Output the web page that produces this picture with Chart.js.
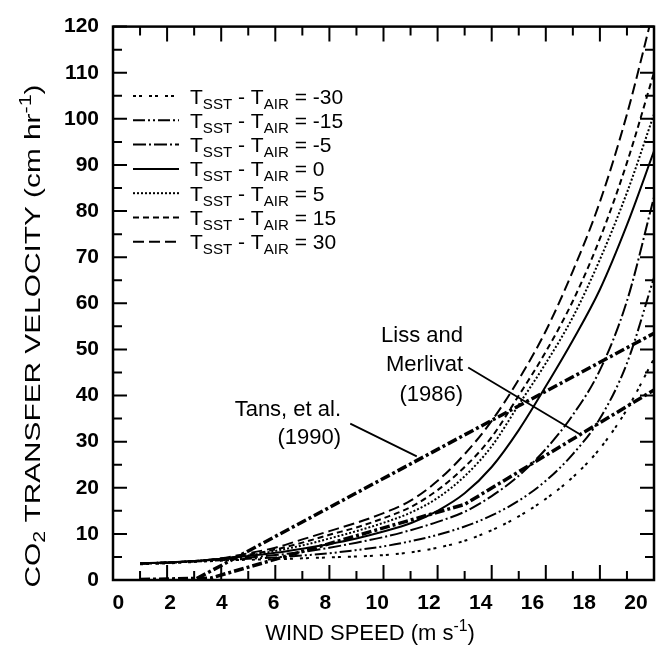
<!DOCTYPE html>
<html>
<head>
<meta charset="utf-8">
<script src="https://cdn.jsdelivr.net/npm/chart.js@4.4.0/dist/chart.umd.min.js"></script>
<style>
  html, body { margin: 0; padding: 0; background: #fff; }
</style>
</head>
<body>
<canvas id="kChart" width="670" height="656"></canvas>
<script>
// wind speed (m/s) for the T_SST - T_AIR curves
const windSpeed = [1, 2, 3, 4, 5, 6, 7, 8, 9, 10, 11, 12, 13, 14, 15, 16, 17, 18, 19, 20];

// CO2 transfer velocity (cm/hr)
const kMinus30 = [3.4, 3.6, 3.9, 4.2, 4.4, 4.5, 4.7, 4.9, 5.1, 5.4, 6.0, 7.0, 8.5, 10.8, 13.8, 17.6, 22.3, 28.5, 37, 48];
const kMinus15 = [3.5, 3.7, 4.0, 4.3, 4.6, 4.9, 5.3, 5.8, 6.5, 7.3, 8.4, 9.8, 11.6, 14.0, 17.2, 21.5, 27.3, 35, 47, 65.6];
const kMinus5 = [3.6, 3.8, 4.1, 4.5, 4.9, 5.4, 6.1, 7.0, 8.1, 9.3, 10.8, 12.6, 14.8, 18.2, 22.6, 28.4, 35.8, 45.5, 60.5, 83];
const kZero = [3.6, 3.8, 4.1, 4.6, 5.2, 5.9, 6.8, 7.8, 9.0, 10.5, 12.3, 15.0, 18.8, 24.5, 32.5, 42, 52, 63, 77, 93];
const kPlus5 = [3.6, 3.8, 4.1, 4.6, 5.3, 6.3, 7.5, 9.0, 10.6, 12.4, 14.6, 17.8, 22.5, 29, 38, 47, 57, 69.5, 84, 101];
const kPlus15 = [3.6, 3.8, 4.1, 4.6, 5.5, 6.6, 8.1, 9.8, 11.4, 13.4, 15.8, 19.5, 24.5, 31, 40, 49.5, 60.5, 74, 90.5, 110];
const kPlus30 = [3.6, 3.8, 4.1, 4.7, 5.8, 7.0, 8.8, 10.6, 12.4, 14.5, 17.2, 21.5, 27.3, 34.5, 43.5, 54, 67, 82, 101, 124];

// Tans et al. (1990) and Liss and Merlivat (1986)
const tansWind = [1, 3, 20];
const tansK = [0, 0, 53.5];
const lissWind = [1, 3.6, 13, 20];
const lissK = [0.1, 0.4, 16.4, 41.2];

const xTickLabels = [0, 2, 4, 6, 8, 10, 12, 14, 16, 18, 20];
const yTickLabels = [0, 10, 20, 30, 40, 50, 60, 70, 80, 90, 100, 110, 120];

const legendDiffs = ['-30', '-15', '-5', '0', '5', '15', '30'];

const FONT = "'Liberation Sans', Arial, Helvetica, sans-serif";

function toPoints(xs, ys) {
    return xs.map((x, i) => ({x: x, y: ys[i]}));
}

function curve(label, values, dash) {
    return {
        label: label,
        data: toPoints(windSpeed, values),
        borderColor: '#000',
        borderWidth: 2,
        borderDash: dash,
        pointRadius: 0,
        fill: false,
        cubicInterpolationMode: 'monotone'
    };
}

const datasets = [
    curve('-30', kMinus30, [3, 3, 3, 7]),
    curve('-15', kMinus15, [12, 3, 2, 3, 2, 3]),
    curve('-5', kMinus5, [13, 3, 2, 3]),
    curve('0', kZero, []),
    curve('5', kPlus5, [2, 2]),
    curve('15', kPlus15, [6, 4]),
    curve('30', kPlus30, [11, 5]),
    {
        label: 'Tans',
        data: toPoints(tansWind, tansK),
        borderColor: '#000',
        borderWidth: 3.5,
        borderDash: [10, 3, 3, 3],
        pointRadius: 0,
        tension: 0
    },
    {
        label: 'Liss',
        data: toPoints(lissWind, lissK),
        borderColor: '#000',
        borderWidth: 3.5,
        borderDash: [10, 3, 3, 3],
        pointRadius: 0,
        tension: 0
    }
];

// draw text made of runs, some of them sub- or superscript
function drawRuns(ctx, runs, x, y, size, align) {
    let total = 0;
    runs.forEach((r) => {
        r.size = r.sub || r.sup ? size * 0.72 : size;
        ctx.font = r.size + 'px ' + FONT;
        r.w = ctx.measureText(r.t).width;
        total += r.w;
    });
    let cx = x;
    if (align === 'right') cx = x - total;
    if (align === 'center') cx = x - total / 2;
    runs.forEach((r) => {
        ctx.font = r.size + 'px ' + FONT;
        let dy = 0;
        if (r.sub) dy = size * 0.24;
        if (r.sup) dy = -size * 0.4;
        ctx.fillText(r.t, cx, y + dy);
        cx += r.w;
    });
    return total;
}

const framePlugin = {
    id: 'frame',
    afterDatasetsDraw(chart) {
        const {ctx, chartArea: a} = chart;
        const x = chart.scales.x;
        const y = chart.scales.y;
        ctx.save();
        ctx.strokeStyle = '#000';
        ctx.lineWidth = 2;
        ctx.beginPath();
        for (let v = 0; v <= 20; v++) {
            const px = x.getPixelForValue(v);
            const len = v % 2 ? 9 : 15;
            ctx.moveTo(px, a.bottom);
            ctx.lineTo(px, a.bottom - len);
            ctx.moveTo(px, a.top);
            ctx.lineTo(px, a.top + len);
        }
        for (let v = 0; v <= 120; v += 5) {
            const py = y.getPixelForValue(v);
            const len = v % 10 ? 9 : 14;
            ctx.moveTo(a.left, py);
            ctx.lineTo(a.left + len, py);
            ctx.moveTo(a.right, py);
            ctx.lineTo(a.right - len, py);
        }
        ctx.stroke();
        ctx.lineWidth = 2.5;
        ctx.strokeRect(a.left, a.top, a.right - a.left, a.bottom - a.top);
        ctx.restore();
    }
};

const textPlugin = {
    id: 'texts',
    afterDraw(chart) {
        const ctx = chart.ctx;
        const x = chart.scales.x;
        const y = chart.scales.y;
        ctx.save();
        ctx.fillStyle = '#000';
        ctx.strokeStyle = '#000';
        ctx.textBaseline = 'alphabetic';

        // legend
        legendDiffs.forEach((d, i) => {
            const ds = datasets[i];
            const rowY = 96 + i * 24.3;
            ctx.lineWidth = 2;
            ctx.setLineDash(ds.borderDash);
            ctx.beginPath();
            ctx.moveTo(133, rowY);
            ctx.lineTo(179, rowY);
            ctx.stroke();
            ctx.setLineDash([]);
            drawRuns(ctx, [
                {t: 'T'}, {t: 'SST', sub: true}, {t: ' - T'}, {t: 'AIR', sub: true}, {t: ' = ' + d}
            ], 190, rowY + 7.5, 21, 'left');
        });

        // annotations
        ctx.font = '22px ' + FONT;
        ctx.textAlign = 'right';
        const lissRight = x.getPixelForValue(12.94);
        ctx.fillText('Liss and', lissRight, y.getPixelForValue(53.3) + 8);
        ctx.fillText('Merlivat', lissRight, y.getPixelForValue(47.0) + 8);
        ctx.fillText('(1986)', lissRight, y.getPixelForValue(40.6) + 8);
        const tansRight = x.getPixelForValue(8.43);
        ctx.fillText('Tans, et al.', tansRight, y.getPixelForValue(37.2) + 8);
        ctx.fillText('(1990)', tansRight, y.getPixelForValue(31.3) + 8);
        ctx.textAlign = 'left';

        ctx.lineWidth = 1.8;
        ctx.beginPath();
        ctx.moveTo(x.getPixelForValue(13.13), y.getPixelForValue(46.1));
        ctx.lineTo(x.getPixelForValue(17.26), y.getPixelForValue(31.6));
        ctx.moveTo(x.getPixelForValue(8.77), y.getPixelForValue(33.9));
        ctx.lineTo(x.getPixelForValue(11.23), y.getPixelForValue(26.8));
        ctx.stroke();

        // axis titles
        drawRuns(ctx, [{t: 'WIND SPEED (m s'}, {t: '-1', sup: true}, {t: ')'}], 370, 640, 22, 'center');

        ctx.save();
        ctx.translate(40, 336);
        ctx.rotate(-Math.PI / 2);
        const runs = [{t: 'CO'}, {t: '2', sub: true}, {t: ' TRANSFER VELOCITY (cm hr'}, {t: '-1', sup: true}, {t: ')'}];
        let w = 0;
        runs.forEach((r) => {
            ctx.font = (r.sub || r.sup ? 22 * 0.72 : 22) + 'px ' + FONT;
            w += ctx.measureText(r.t).width;
        });
        ctx.scale(503 / w, 1);
        drawRuns(ctx, runs, 0, 0, 22, 'center');
        ctx.restore();

        ctx.restore();
    }
};

new Chart(document.getElementById('kChart'), {
    type: 'line',
    data: {datasets: datasets},
    options: {
        responsive: false,
        animation: false,
        layout: {padding: {top: 13, right: 16, left: 0, bottom: 0}},
        plugins: {
            legend: {display: false},
            tooltip: {enabled: false}
        },
        scales: {
            x: {type: 'linear', min: 0, max: 20, display: false},
            xl: {
                type: 'linear',
                axis: 'x',
                position: 'bottom',
                min: -0.205,
                max: 20.695,
                afterBuildTicks: (s) => { s.ticks = xTickLabels.map((v) => ({value: v})); },
                afterFit: (s) => { s.height = 76; },
                grid: {display: false, drawTicks: false},
                border: {display: false},
                ticks: {
                    color: '#000',
                    padding: 11,
                    maxRotation: 0,
                    autoSkip: false,
                    font: {family: FONT, size: 21, weight: 'bold'}
                }
            },
            y: {
                type: 'linear',
                position: 'left',
                min: 0,
                max: 120,
                afterBuildTicks: (s) => { s.ticks = yTickLabels.map((v) => ({value: v})); },
                afterFit: (s) => { s.width = 113; },
                grid: {display: false, drawTicks: false},
                border: {display: false},
                ticks: {
                    color: '#000',
                    padding: 14,
                    font: {family: FONT, size: 21, weight: 'bold'}
                }
            }
        }
    },
    plugins: [framePlugin, textPlugin]
});
</script>
</body>
</html>
